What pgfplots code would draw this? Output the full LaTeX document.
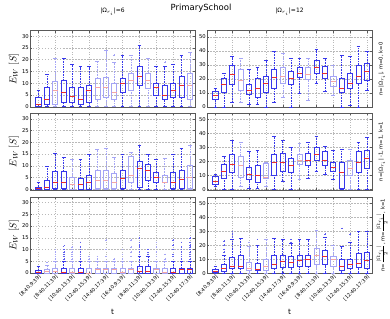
\documentclass[border=0pt]{standalone}
\usepackage{pgfplots}
\pgfplotsset{compat=1.18}
\usepgfplotslibrary{statistics}
\usepackage{fontspec}
\setmainfont{DejaVu Sans}
\definecolor{dkb}{RGB}{55,55,235}
\definecolor{ltb}{RGB}{165,165,245}
\definecolor{dkr}{RGB}{235,45,45}
\definecolor{ltr}{RGB}{245,165,165}
\pgfplotsset{
  boxplot/draw direction=y,
  boxplot/draw/lower whisker/.code={%
    \draw[/pgfplots/boxplot/every whisker/.try]
      (boxplot box cs:\pgfplotsboxplotvalue{lower whisker},0.5) --
      (boxplot box cs:\pgfplotsboxplotvalue{lower quartile},0.5);
    \draw[/pgfplots/boxplot/every whisker/.try, solid]
      (boxplot whisker cs:\pgfplotsboxplotvalue{lower whisker},0) --
      (boxplot whisker cs:\pgfplotsboxplotvalue{lower whisker},1);
  },
  boxplot/draw/upper whisker/.code={%
    \draw[/pgfplots/boxplot/every whisker/.try]
      (boxplot box cs:\pgfplotsboxplotvalue{upper quartile},0.5) --
      (boxplot box cs:\pgfplotsboxplotvalue{upper whisker},0.5);
    \draw[/pgfplots/boxplot/every whisker/.try, solid]
      (boxplot whisker cs:\pgfplotsboxplotvalue{upper whisker},0) --
      (boxplot whisker cs:\pgfplotsboxplotvalue{upper whisker},1);
  },
  Dbox/.style={draw=dkb, line width=0.8bp, mark=none,
    boxplot/draw direction=y,
    boxplot/box extend=0.6, boxplot/whisker extend=0.45,
    boxplot/every median/.style={draw=dkr, line width=0.85bp},
    boxplot/every whisker/.style={draw=dkb, line width=0.55bp, dash pattern=on 1.6bp off 1bp}},
  Lbox/.style={draw=ltb, line width=0.6bp, mark=none,
    boxplot/draw direction=y,
    boxplot/box extend=0.6, boxplot/whisker extend=0.45,
    boxplot/every median/.style={draw=ltr, line width=0.8bp},
    boxplot/every whisker/.style={draw=ltb, line width=0.5bp, dash pattern=on 1.6bp off 1bp}},
  Dfl/.style={only marks, mark=+, mark size=0.7bp, mark options={draw=dkb!80, line width=0.3bp}},
  Lfl/.style={only marks, mark=+, mark size=0.7bp, mark options={draw=ltb, line width=0.3bp}},
  panel/.style={scale only axis, width=165bp, height=76.5bp,
    xmin=0, xmax=19.6, xtick={1,3,...,19},
    xmajorgrids, ymajorgrids,
    x grid style={gray!55, dotted, line width=0.4bp},
    y grid style={gray!55, dash pattern=on 1.5bp off 1.5bp, line width=0.4bp},
    axis line style={gray!70!black, line width=0.5bp},
    tick style={gray!70!black, line width=0.4bp},
    tick align=inside, major tick length=1.8bp,
    /pgf/number format/assume math mode=true,
    yticklabel style={font=\fontsize{5.3}{6}\selectfont, inner sep=1bp},
    xticklabel style={font=\fontsize{5}{6}\selectfont, rotate=45, anchor=north east, inner sep=0.5bp},
    xticklabels={}},
  leftp/.style={ymin=-0.2, ymax=32.3, ytick={0,5,...,30},
    ylabel={$E_W\;[S]$},
    ylabel style={at={(axis description cs:-0.097,0.5)}, anchor=center, font=\fontsize{10}{11}\selectfont}},
  rightp/.style={ymin=-0.3, ymax=54.5, ytick={0,10,...,50}},
  botp/.style={xticklabels={{[8:40,9:39]},{[8:40,11:39]},{[10:40,13:39]},{[12:40,15:39]},{[14:40,17:39]},{[16:40,9:39]},{[8:40,11:39]},{[10:40,13:39]},{[12:40,15:39]},{[12:40,17:39]}},
    xlabel={t}, xlabel style={at={(axis description cs:0.5,-0.5)}, anchor=center, font=\fontsize{7.5}{8}\selectfont}},
}
\newcommand{\bx}[7]{\addplot[#7box, boxplot prepared={draw position=#1, lower whisker=#2, lower quartile=#3, median=#4, upper quartile=#5, upper whisker=#6}] coordinates {};}
\newcommand{\fl}[2]{\addplot[#1fl] coordinates {#2};}
\newcommand{\rowlab}[2]{\node[rotate=90, font=\fontsize{5.3}{6}\selectfont, inner sep=0pt] at (1.06,#1) {#2};}
\begin{document}
\begin{tikzpicture}
% ---------------- row 1, left
\begin{axis}[panel, leftp, at={(30bp,-30.7bp)}, anchor=north west,
  title={|Ω$_{r_i}$|=6}, title style={at={(axis description cs:0.5,1)}, anchor=center, yshift=13bp, font=\fontsize{6}{7}\selectfont}]
\bx{1}{0}{0}{1}{4}{7}{D}
\bx{2}{0}{1}{3}{8}{14}{D}
\bx{3}{0}{1}{7}{11}{20.6}{L}
\bx{4}{0}{2}{6}{11}{20.5}{D}
\bx{5}{0}{2}{4.5}{8}{18}{D}
\bx{6}{0}{1}{3}{8}{17}{D}
\bx{7}{0}{2}{7}{9}{17}{D}
\bx{8}{0}{3}{8}{12}{19.5}{L}
\bx{9}{0}{4}{8}{12.5}{23.8}{L}
\bx{10}{0}{3}{6}{10}{19}{L}
\bx{11}{0}{6}{10}{12}{22}{D}
\bx{12}{0}{7}{11}{14}{22}{L}
\bx{13}{0}{9}{13}{17}{26}{D}
\bx{14}{0}{8}{11}{14}{20.6}{L}
\bx{15}{0}{5}{8}{10}{17}{D}
\bx{16}{0}{3}{5}{9}{17}{D}
\bx{17}{0}{4}{7}{10}{18}{D}
\bx{18}{0}{4}{9}{13}{22}{D}
\bx{19}{0}{3}{9}{14}{23}{L}
\fl{L}{(10,22)(16,19)}
\end{axis}
% ---------------- row 1, right
\begin{axis}[panel, rightp, at={(207bp,-30.7bp)}, anchor=north west,
  title={|Ω$_{r_i}$|=12}, title style={at={(axis description cs:0.5,1)}, anchor=center, yshift=13bp, font=\fontsize{6}{7}\selectfont},
  extra description/.code={\rowlab{0.5}{n=|Ω$_{r_i}$|, m=0, k=0}}]
\bx{1}{0}{5}{8}{11}{13}{D}
\bx{2}{0}{10}{16}{20}{24}{D}
\bx{3}{3}{16}{23}{30}{36}{D}
\bx{4}{3}{12}{19}{26.5}{35}{L}
\bx{5}{2}{9}{12}{16}{27}{D}
\bx{6}{2}{7}{13}{20}{28}{D}
\bx{7}{0}{10}{17}{22}{33}{D}
\bx{8}{3}{13}{21}{27}{40}{D}
\bx{9}{7}{17}{22}{28}{38}{L}
\bx{10}{0}{16}{20}{25}{35}{D}
\bx{11}{10}{21}{24}{28}{35}{D}
\bx{12}{5}{20}{23}{28}{35}{L}
\bx{13}{17}{24}{28}{33}{41}{D}
\bx{14}{11}{20}{24}{29}{35}{D}
\bx{15}{8}{15}{18}{22}{30}{L}
\bx{16}{0}{10}{13}{20}{37}{D}
\bx{17}{1}{13}{17}{24}{36}{D}
\bx{18}{0}{17}{22}{30}{43}{D}
\bx{19}{12}{19}{25}{31}{40}{D}
\end{axis}
% ---------------- row 2, left
\begin{axis}[panel, leftp, at={(30bp,-113.3bp)}, anchor=north west]
\bx{1}{0}{0}{0.3}{1}{2.8}{D}
\bx{2}{0}{0}{1}{4}{10}{D}
\bx{3}{0}{0.5}{3}{7.7}{15.5}{D}
\bx{4}{0}{0.5}{3}{7.5}{13.8}{D}
\bx{5}{0}{0}{2}{5}{12.7}{L}
\bx{6}{0}{0}{2}{4.5}{12.7}{D}
\bx{7}{0}{0}{3}{6}{14.8}{D}
\bx{8}{0}{0.5}{4}{8}{16.9}{L}
\bx{9}{0}{0.5}{4}{8}{17.6}{L}
\bx{10}{0}{0.5}{3}{7}{13.8}{L}
\bx{11}{0}{0.5}{4.5}{8}{14.8}{D}
\bx{12}{0}{3}{6}{14}{15.8}{L}
\bx{13}{0}{1}{9}{12}{18.7}{D}
\bx{14}{0}{4}{8}{10.4}{14.8}{D}
\bx{15}{0}{3}{5}{7}{12.7}{D}
\bx{16}{0}{3}{3}{6}{13.4}{L}
\bx{17}{0}{0.5}{3}{7}{14.8}{D}
\bx{18}{0}{0.5}{4}{8}{17.6}{D}
\bx{19}{0}{0.5}{5}{10}{18.7}{L}
\end{axis}
% ---------------- row 2, right
\begin{axis}[panel, rightp, at={(207bp,-113.3bp)}, anchor=north west,
  extra description/.code={\rowlab{0.5}{n=|Ω$_{r_i}$|\,-1, m=1, k=1}}]
\bx{1}{2}{3.5}{6}{9}{11}{D}
\bx{2}{0}{8}{13}{18}{24}{D}
\bx{3}{0}{12}{18}{25}{35}{D}
\bx{4}{2}{9}{17}{24}{34}{L}
\bx{5}{1}{7}{11}{16}{27}{D}
\bx{6}{1}{5}{10}{17}{28}{D}
\bx{7}{2}{8}{8.5}{19}{19.5}{L}
\bx{8}{0}{10}{19}{25}{38}{D}
\bx{9}{6}{13}{19}{26}{35}{D}
\bx{10}{0}{12}{17}{22}{30}{D}
\bx{11}{7}{18}{21}{25}{33}{L}
\bx{12}{8}{17}{21}{26}{34}{D}
\bx{13}{13}{21}{25}{30}{38}{D}
\bx{14}{11}{17}{21}{27}{31}{D}
\bx{15}{7}{13}{16}{19}{28}{D}
\bx{16}{0}{1}{12}{19}{29}{D}
\bx{17}{0}{10}{15}{21}{29}{L}
\bx{18}{0}{12}{19}{27}{34}{D}
\bx{19}{0}{15}{22}{28}{37}{D}
\end{axis}
% ---------------- row 3, left
\begin{axis}[panel, leftp, botp, at={(30bp,-197bp)}, anchor=north west]
\bx{1}{0}{0}{0.2}{1.2}{3}{D}
\bx{2}{0}{0}{0.5}{1.5}{3.5}{L}
\bx{3}{0}{0}{0.5}{2}{5}{L}
\bx{4}{0}{0}{0.3}{2}{5}{D}
\bx{5}{0}{0}{0.3}{2}{5}{L}
\bx{6}{0}{0}{0.3}{2}{5}{D}
\bx{7}{0}{0}{0}{2}{5}{L}
\bx{8}{0}{0}{1.5}{2}{5}{L}
\bx{9}{0}{0}{1.5}{2}{5}{L}
\bx{10}{0}{0}{1.5}{2}{5}{L}
\bx{11}{0}{0}{0.3}{2}{5}{L}
\bx{12}{0}{0}{1.5}{2}{5}{L}
\bx{13}{0}{0}{0.5}{3}{7}{D}
\bx{14}{0}{0}{0.5}{3}{7}{D}
\bx{15}{0}{0}{1.5}{2}{5}{L}
\bx{16}{0}{0}{0.3}{2}{5}{L}
\bx{17}{0}{0}{0.3}{2}{5}{D}
\bx{18}{0}{0}{1.5}{2}{5}{D}
\bx{19}{0}{0}{1.5}{2}{5}{D}
\fl{L}{(2,4.5)(3,6)(3,7)(3,8)(3,9)(3,10)(5,6)(5,7)(5,8)(5,9)(5,10)(5,11)(7,6)(7,7)(8,6)(8,7)(9,7)(9,10)(9,14)(10,6)(11,6)(11,8)(11,10)(12,7)(12,9)(12,11)(12,14)(15,7)(15,9)(15,11)(15,13)(16,6)(16,8)}
\fl{D}{(4,6)(4,7)(4,8)(4,9)(4,10)(4,11.6)(6,6)(6,7)(6,8)(6,9)(6,10)(6,11)(6,13)(13,8)(13,9)(13,10)(13,11)(13,12)(13,13)(13,15)(14,8)(14,8.7)(14,10)(17,7)(17,8)(17,10)(17,12)(17,14)(18,6)(18,7)(18,8)(18,9)(18,10)(18,11)(18,13)(19,6)(19,7)(19,8)(19,9)(19,10)(19,11)(19,12)(19,13)(19,15)}
\end{axis}
% ---------------- row 3, right
\begin{axis}[panel, rightp, botp, at={(207bp,-197bp)}, anchor=north west,
  extra description/.code={\rowlab{0.5}{n=$\scriptstyle\frac{|\Omega_{r_i}|}{2}$, m=$\scriptstyle\frac{|\Omega_{r_i}|}{2}$, k=1}}]
\bx{1}{0}{0.5}{1.5}{2.5}{5}{D}
\bx{2}{0}{1}{3}{6}{13}{D}
\bx{3}{0}{3}{5}{11}{24}{D}
\bx{4}{0}{3}{5}{12.5}{25}{D}
\bx{5}{0}{2}{3}{8}{19}{L}
\bx{6}{0}{2}{2.5}{7}{20}{D}
\bx{7}{0}{2}{5}{10}{24}{L}
\bx{8}{0}{3}{6}{12.5}{25}{D}
\bx{9}{0}{4}{8}{13}{24}{D}
\bx{10}{0}{4}{7.5}{12}{21}{D}
\bx{11}{0}{5}{9}{13}{24}{D}
\bx{12}{0}{5}{10}{13}{24}{D}
\bx{13}{0}{6}{13}{18}{31}{L}
\bx{14}{0}{6}{12}{16}{26}{D}
\bx{15}{0}{5}{9.5}{12}{20}{L}
\bx{16}{0}{2}{5}{10}{19}{D}
\bx{17}{0}{3}{6}{10}{22}{D}
\bx{18}{0}{4}{7}{14}{30}{D}
\bx{19}{0}{3}{9}{14.5}{30}{D}
\fl{D}{(2,15)(2,17)(2,20)(2,23)(3,26)(3,28)(3,30)(6,24)(10,22)(10,24)(14,28)(16,32)(17,28)}
\fl{L}{(5,22)}
\end{axis}
\node[font=\fontsize{8.5}{9}\selectfont] at (201bp,-8bp) {PrimarySchool};
\pgfresetboundingbox
\path[use as bounding box] (0,0) rectangle (390bp,-319bp);
\end{tikzpicture}
\end{document}
